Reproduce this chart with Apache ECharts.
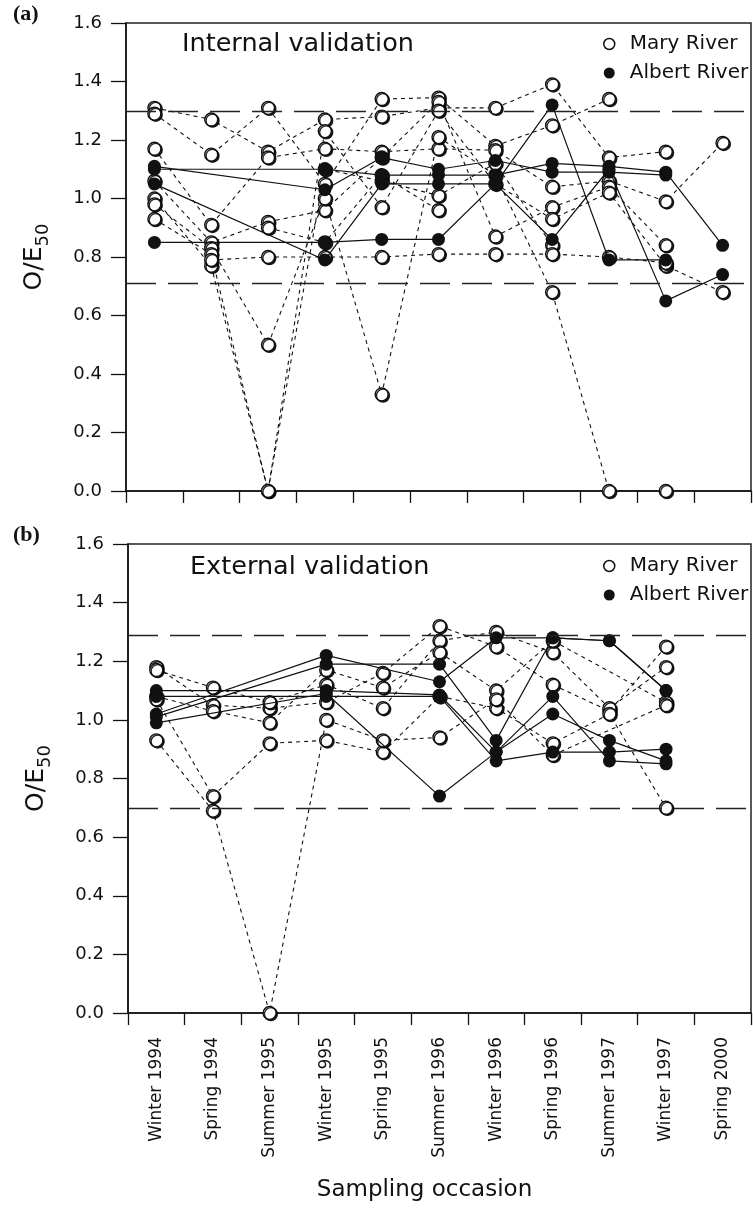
<!DOCTYPE html>
<html><head><meta charset="utf-8">
<script src="https://cdn.jsdelivr.net/npm/echarts@6/dist/echarts.min.js"></script>
<style>html,body{margin:0;padding:0;background:#fff}#c{width:753px;height:1220px}</style>
</head><body><div id="c"></div>
<script>
// ---------- data ----------
const categories = ['Winter 1994','Spring 1994','Summer 1995','Winter 1995','Spring 1995','Summer 1996','Winter 1996','Spring 1996','Summer 1997','Winter 1997','Spring 2000'];

// (a) Internal validation – Mary River sites (open circles, dotted lines)
const maryInternal = [
  [1.31, 1.27, 1.16, 1.27, 1.28, 1.31, 1.31, 1.39, 1.14, 1.16, null],
  [1.29, 1.15, 1.31, 1.05, 1.34, 1.345, 1.18, 1.25, 1.34, null, null],
  [1.17, 0.91, 1.14, 1.17, 1.16, 1.17, 1.165, 1.04, 1.06, 0.99, 1.19],
  [1.06, 0.85, 0.92, 0.96, 1.14, 1.33, 0.87, 0.97, 1.04, 0.84, null],
  [1.00, 0.77, 0.00, 1.23, 0.97, 1.30, 1.05, 0.93, 1.02, 0.77, 0.68],
  [0.98, 0.83, 0.50, 1.00, 0.33, 1.21, 1.08, 0.68, 0.00, 0.00, null],
  [0.93, 0.81, 0.00, 1.10, 1.06, 1.01, 1.12, 0.84, null, null, null],
  [null, 0.79, 0.80, 0.80, 0.80, 0.81, 0.81, 0.81, 0.80, 0.78, null],
  [null, null, 0.90, 0.85, 1.08, 0.96, null, null, null, null, null]
];
// (a) Internal validation – Albert River sites (filled circles, solid lines)
const albertInternal = [
  [1.10, null, null, 1.10, 1.08, 1.08, 1.08, 1.12, 1.11, 1.09, 0.84],
  [1.11, null, null, 1.03, 1.14, 1.10, 1.13, 1.09, 1.09, 1.08, null],
  [1.05, null, null, 0.79, 1.05, 1.05, 1.05, 1.32, 0.79, 0.79, null],
  [0.85, null, null, 0.85, 0.86, 0.86, 1.05, 0.86, 1.10, 0.65, 0.74]
];
// (b) External validation – Mary River sites
const maryExternal = [
  [1.18, 1.05, 1.04, 1.06, 1.16, 1.32, 1.25, 1.12, 1.03, 1.25, null],
  [1.17, 1.11, 1.06, 1.12, 1.04, 1.27, 1.30, 1.23, 1.04, 1.18, null],
  [1.08, 1.03, 0.99, 1.17, 1.11, 1.23, 1.10, 1.27, null, 1.06, null],
  [1.07, 0.74, 0.92, 0.93, 0.89, 1.08, 1.04, 0.92, 1.02, 0.70, null],
  [0.93, 0.69, 0.00, 1.00, 0.93, 0.94, 1.07, 0.88, null, 1.05, null]
];
// (b) External validation – Albert River sites
const albertExternal = [
  [1.10, null, null, 1.10, null, 1.085, 0.89, 1.08, 0.86, 0.85, null],
  [1.08, null, null, 1.08, null, 1.08, 0.86, 0.89, 0.89, 0.90, null],
  [1.02, null, null, 1.22, null, 1.13, 1.28, 1.28, 1.27, 1.10, null],
  [1.01, null, null, 1.19, null, 1.19, 0.93, 1.28, 1.27, 1.10, null],
  [0.99, null, null, 1.09, null, 0.74, 0.89, 1.02, 0.93, 0.86, null]
];
// dashed limit lines (O/E50 band)
const limitsInternal = [1.30, 0.71];
const limitsExternal = [1.29, 0.70];
const panelTitles = ['Internal validation', 'External validation'];
const panelTags = ['(a)', '(b)'];
const legendNames = ['Mary River', 'Albert River'];

// ---------- styling ----------
const SANS = 'DejaVu Sans';
const INK = '#111';

function marySeries(data, idx, limits) {
  const s = {
    type: 'line', name: legendNames[0], xAxisIndex: idx, yAxisIndex: idx,
    data: data, connectNulls: true, symbol: 'circle', symbolSize: 13, showAllSymbol: true,
    lineStyle: { color: INK, width: 1.1, type: [4, 4] },
    itemStyle: { color: '#fff', borderColor: INK, borderWidth: 1.4,
      shadowColor: 'rgba(0,0,0,0.85)', shadowOffsetX: 1.3, shadowOffsetY: 1.1, shadowBlur: 0 },
    emphasis: { disabled: true }, z: 2, animation: false
  };
  if (limits) {
    s.markLine = { silent: true, symbol: 'none', animation: false,
      label: { show: false },
      lineStyle: { type: [30, 12], color: '#222', width: 1.3 },
      data: limits.map(v => ({ yAxis: v })) };
  }
  return s;
}
function albertSeries(data, idx) {
  return {
    type: 'line', name: legendNames[1], xAxisIndex: idx, yAxisIndex: idx,
    data: data, connectNulls: true, symbol: 'circle', symbolSize: 13, showAllSymbol: true,
    lineStyle: { color: INK, width: 1.2, type: 'solid' },
    itemStyle: { color: INK },
    emphasis: { disabled: true }, z: 3, animation: false
  };
}

const series = [];
maryInternal.forEach((d, i) => series.push(marySeries(d, 0, i === 0 ? limitsInternal : null)));
albertInternal.forEach(d => series.push(albertSeries(d, 0)));
maryExternal.forEach((d, i) => series.push(marySeries(d, 1, i === 0 ? limitsExternal : null)));
albertExternal.forEach(d => series.push(albertSeries(d, 1)));

function yAxisCfg(idx) {
  return {
    type: 'value', gridIndex: idx, min: 0, max: 1.6, interval: 0.2,
    name: 'O/E{s|50}', nameLocation: 'middle', nameRotate: 90, nameGap: 78,
    nameTextStyle: { fontFamily: SANS, fontSize: 25, color: INK, lineHeight: 28,
      rich: { s: { fontFamily: SANS, fontSize: 18, color: INK, lineHeight: 18, padding: [14, 0, 0, 0], verticalAlign: 'top' } } },
    axisLine: { show: true, lineStyle: { color: INK, width: 1.5 } },
    axisTick: { show: true, inside: false, length: 15, lineStyle: { color: INK, width: 1.3 } },
    axisLabel: { fontFamily: SANS, fontSize: 18, color: INK, margin: 24, formatter: v => v.toFixed(1) },
    splitLine: { show: false }
  };
}
function xAxisCfg(idx) {
  const a = {
    type: 'category', gridIndex: idx, data: categories, boundaryGap: true,
    axisLine: { show: true, lineStyle: { color: INK, width: 1.5 } },
    axisTick: { show: true, inside: false, length: 12, lineStyle: { color: INK, width: 1.3 } },
    axisLabel: { show: idx === 1, rotate: 90, fontFamily: SANS, fontSize: 17, color: INK, margin: 24, interval: 0 },
    splitLine: { show: false }
  };
  if (idx === 1) {
    a.name = 'Sampling occasion'; a.nameLocation = 'middle'; a.nameGap = 166;
    a.nameTextStyle = { fontFamily: SANS, fontSize: 23, color: INK, padding: [0, 30, 0, 0] };
  }
  return a;
}
function legendCfg(top) {
  return {
    orient: 'vertical', left: 598, top: top, itemWidth: 11, itemHeight: 11, itemGap: 7,
    selectedMode: false,
    textStyle: { fontFamily: SANS, fontSize: 20, color: INK, lineHeight: 22, padding: [0, 0, 0, 10] },
    data: [
      { name: legendNames[0], icon: 'circle', itemStyle: { color: '#fff', borderColor: INK, borderWidth: 1.5 } },
      { name: legendNames[1], icon: 'circle', itemStyle: { color: INK, borderWidth: 0 } }
    ]
  };
}

const option = {
  backgroundColor: '#fff',
  animation: false,
  title: [
    { text: panelTags[0], left: 13, top: 3, padding: 0, textStyle: { fontFamily: 'Liberation Serif', fontWeight: 'bold', fontSize: 22, color: INK } },
    { text: panelTitles[0], left: 182, top: 31, padding: 0, textStyle: { fontFamily: SANS, fontWeight: 'normal', fontSize: 25.5, color: INK } },
    { text: panelTags[1], left: 13, top: 524, padding: 0, textStyle: { fontFamily: 'Liberation Serif', fontWeight: 'bold', fontSize: 22, color: INK } },
    { text: panelTitles[1], left: 190, top: 554, padding: 0, textStyle: { fontFamily: SANS, fontWeight: 'normal', fontSize: 25.5, color: INK } }
  ],
  legend: [legendCfg(28), legendCfg(550)],
  grid: [
    { left: 126, top: 23, width: 625, height: 468, show: true, borderColor: '#222', borderWidth: 1.5, backgroundColor: 'transparent', containLabel: false },
    { left: 128, top: 544, width: 623, height: 469, show: true, borderColor: '#222', borderWidth: 1.5, backgroundColor: 'transparent', containLabel: false }
  ],
  xAxis: [xAxisCfg(0), xAxisCfg(1)],
  yAxis: [yAxisCfg(0), yAxisCfg(1)],
  series: series
};

const chart = echarts.init(document.getElementById('c'), null, { renderer: 'canvas' });
chart.setOption(option);
</script>
</body></html>
